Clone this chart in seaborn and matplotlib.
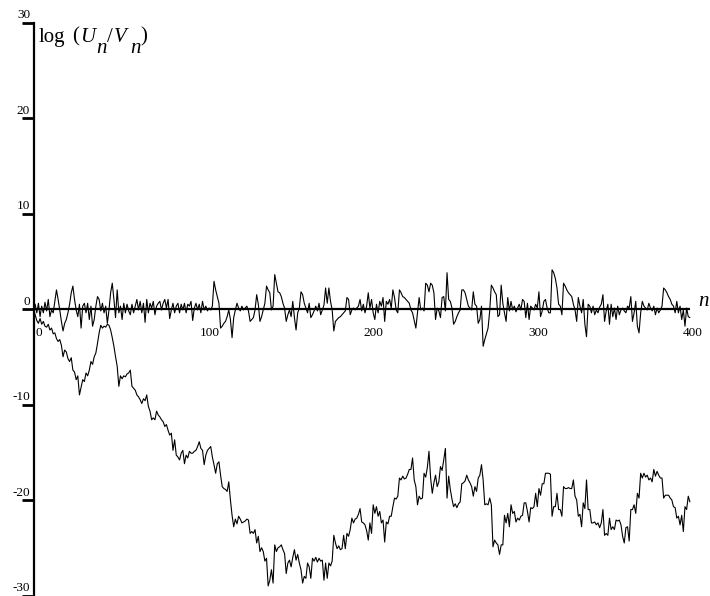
import numpy as np
import pandas as pd
import matplotlib
matplotlib.use("Agg")
import matplotlib.pyplot as plt
import seaborn as sns

# log(U_n/V_n), series that stays near zero (one value per n, n = 0..400)
log_ratio_flat = [
    0.0, 0.5, -0.4, 0.6, -0.8, 0.3, -0.4, 0.7, -0.2, 1.0,
    -0.8, -0.1, -0.4, 0.8, 2.0, 1.0, -0.1, -1.3, -2.3, -1.5,
    -1.1, -0.4, 0.5, 1.7, 2.4, 1.0, -0.1, -0.8, 0.5, -2.0,
    0.3, 0.6, -0.4, 0.6, -1.1, 0.3, -1.8, -1.1, 0.3, 1.3,
    1.0, -0.2, 0.6, -0.4, 0.3, -1.5, -0.1, 1.7, 2.7, 1.0,
    -0.9, 2.0, -0.4, 0.3, -1.1, 0.6, -0.4, 0.5, -0.2, -0.6,
    0.5, -0.4, 0.3, 1.0, -0.1,
    0.8, -0.4, 0.6, -1.4, 1.0,
    -0.4, 0.6, 0.1, 0.8, -0.6, 0.3, 0.6, 0.8, -0.1, 0.6,
    1.0, 0.1, 1.0, -1.0, -0.1, 0.6, -0.4, 0.3, 0.6, -0.4,
    0.5, -0.1, 0.6, -0.4, 0.5, 0.3, 0.8, -1.2, 0.1, 0.6,
    -0.1, 0.5, -0.4,
    0.8, -0.1, 0.3, -0.2, 0.1, -0.1, 0.3,
    2.9, 2.0, 1.3, 0.6, -2.0, -1.8, -1.5, -1.3, -0.8, -0.1,
    -1.1, -3.0, -0.9, -0.1, 0.6, 0.1, -0.2, 0.3, -0.1, 0.1,
    0.3, -0.2, -1.3, -1.1, -0.9, -0.1, 1.5, 0.5, -1.3, -0.8,
    -0.1, 0.6, 2.4, 2.0, 1.7, -0.1, 0.3, 3.6, 2.7, 1.8,
    1.7, 1.3, 0.6, 0.1, -1.3, -0.6, -0.1, -0.8, 0.8, -0.9,
    -2.2, -0.4, 0.1, 1.8, 1.5, 0.6, 0.1, -0.4, 0.6, -0.9,
    -0.6, -0.2, 0.3, -0.2, 0.6, -0.6, -0.1, 0.4, 2.2, 0.6,
    2.2, 0.8, -0.1, -2.3, -1.3, -1.1, -0.9, -0.8, -0.6, -0.4,
    -0.2, 1.2, 1.0, -0.6, -0.1, 0.1, -0.1, 0.1, 0.3, 1.0,
    -0.2, 0.5, -0.4, 0.3, 1.7,
    0.1, 1.0, -0.4, -1.1, 0.5,
    -0.4, 0.8, 0.3, 1.2, -1.3, 0.8, 0.5, 1.0, 0.1, 2.0,
    1.2, -0.1, -0.4, 2.0, 1.7, 1.3, 1.2, 1.0, 0.8, 0.6,
    -0.1, -0.4, -1.2, -2.0, -0.4, 1.2, -0.1, 0.1, -0.2, 2.7,
    2.5, 1.8, 2.7, 2.5, 1.7, -1.1, 0.1, -0.2, -0.9, 1.2,
    1.3, -0.2, 3.8, 1.0, 0.8, 0.1, -1.6, -1.3, -0.8, -0.4,
    -0.1, 2.0, 2.0, 1.7, 1.0, 0.3, 0.1, -0.1, 1.8, 0.5,
    0.3, -1.5, -1.1, 0.3, -3.9, -3.2, -2.6, -2.0, -0.2, 2.5,
    2.2, 1.8, 1.5, -0.8, -0.6, 2.5, 0.6, -0.4, -1.3, 1.2,
    -0.2, 0.8, -0.1, 0.3, -0.3, 0.1, 0.5, -0.1, 1.0, 0.8,
    -0.9, 0.6, -1.1, 0.3, 0.1, -0.1, 0.5,
    0.1, 1.8, -0.8,
    -0.2, 0.8, 1.0, 0.1, -0.4, -0.4, 4.1, 3.8, 3.2, 2.2,
    0.5, 0.3, -0.6, 2.7, 2.4, 2.0, 1.7, 1.5, 1.3, 0.5,
    -0.1, -1.3, 1.2, 0.3, -0.4, 1.0, -1.6, -2.9, 0.5, 0.3,
    -0.4, 0.3, -0.6, -0.1, -0.4, 0.2, 0.5, 1.5, -1.3, -0.2,
    0.5, -1.6, 0.5, -0.8, 0.1, -1.1, 0.3, -0.6, -0.1, 0.1,
    -0.2, -0.4, 0.3, 0.1, 1.3, -1.3, -0.4, 0.8, -1.8, -2.5,
    -0.4, 0.8, 0.3, 0.1, -0.1, 0.6, 0.1, -0.2, 0.3, -0.6,
    0.1, -0.4, -0.1, 0.3, 2.2, 2.0, 1.7, 1.3, 1.0, 0.5,
    0.3, -0.4, 0.8, -0.4, 0.3, -1.1, -0.1, -1.8, 0.1, -0.8,
    -0.9,
]

# log(U_n/V_n), drifting series (one value per n, n = 0..400)
log_ratio_drift = [
    0.0, -0.6, -1.2, -1.5, -1.0, -1.6, -1.3, -1.8, -1.9, -1.6,
    -2.2, -2.0, -2.6, -2.5, -3.1, -3.4, -3.2, -3.8, -5.0, -4.3,
    -4.5, -5.2, -5.5, -5.1, -6.4, -6.6, -7.4, -7.0, -9.0, -8.2,
    -7.4, -7.6, -6.7, -7.0, -6.4, -5.5, -5.8, -5.0, -4.6, -3.6,
    -2.5, -1.7, -2.0, -1.8, -1.9, -1.6, -1.7, -2.2, -3.0, -3.9,
    -5.0, -6.0, -8.1, -7.0, -7.3, -7.0, -7.1, -6.8, -6.7, -6.4,
    -8.1, -8.3, -8.5, -9.0, -9.2, -9.5, -9.9, -9.4, -9.6, -9.0,
    -10.2, -10.7, -11.6, -11.4, -11.6, -10.7, -11.1, -11.3, -11.6, -11.8,
    -12.3, -12.1, -12.7, -13.2, -13.0, -14.8, -13.7, -15.3, -15.5, -15.8,
    -15.1, -14.8, -16.2, -15.3, -15.6, -14.9, -15.1, -15.1, -14.9, -14.8,
    -14.4, -13.9, -14.6, -14.8, -16.3, -15.3, -14.8, -14.6, -14.4, -15.5,
    -16.3, -17.2, -16.2, -16.0, -17.4, -18.6, -18.8, -18.9, -19.1, -18.1,
    -20.0, -21.6, -22.8, -22.0, -22.5, -21.7, -22.0, -22.4, -22.3, -22.2,
    -22.0, -22.1, -23.5, -23.3, -23.5, -23.1, -24.5, -23.8, -25.4, -25.0,
    -25.4, -26.4, -26.1, -29.0, -28.4, -27.3, -28.7, -24.7, -25.4, -25.0,
    -24.9, -24.7, -25.2, -25.6, -27.7, -26.6, -26.3, -27.0, -26.0, -25.2,
    -26.3, -25.7, -26.6, -27.3, -28.7, -28.0, -28.2, -26.6, -27.0, -28.2,
    -26.1, -26.4, -26.0, -26.5, -26.1, -26.4, -26.3, -28.4, -26.6, -28.2,
    -26.6, -26.9, -26.4, -23.7, -24.5, -25.1, -24.8, -25.2, -25.1, -23.7,
    -25.1, -23.5, -23.8, -23.1, -21.9, -22.4, -22.0, -21.9, -21.5, -20.9,
    -22.3, -22.4, -22.6, -23.2, -24.2, -22.4, -23.5, -20.5, -21.4, -20.7,
    -21.7, -21.2, -22.4, -22.1, -24.4, -22.3, -22.5, -21.7, -21.7, -20.7,
    -19.8, -19.9, -19.6, -17.7, -17.9, -17.5, -17.8, -17.7, -17.3, -16.8,
    -16.8, -15.6, -17.9, -18.6, -20.5, -19.6, -19.9, -19.8, -17.2, -17.6,
    -16.6, -14.9, -17.7, -19.3, -18.2, -17.4, -18.6, -18.1, -16.5, -16.9,
    -15.8, -14.6, -19.8, -17.5, -18.9, -19.9, -20.7, -20.4, -20.8, -20.4,
    -20.2, -18.3, -18.2, -18.0, -17.4, -17.9, -18.2, -18.6, -19.6, -18.6,
    -19.1, -17.7, -17.4, -16.3, -17.9, -20.5, -20.4, -20.5, -19.8, -20.5,
    -24.9, -24.2, -24.5, -24.7, -25.7, -24.7, -24.7, -21.6, -22.4, -21.4,
    -22.8, -20.5, -21.4, -21.2, -22.3, -21.9, -22.1, -21.7, -21.6, -20.3,
    -20.3, -21.2, -22.3, -20.8, -20.9, -20.7, -19.3, -20.7, -18.8, -19.5,
    -18.3, -18.3, -17.2, -17.2, -17.2, -17.3, -21.7, -20.7, -20.7, -19.3,
    -21.0, -21.0, -21.7, -18.6, -18.8, -18.8, -18.7, -18.8, -18.8, -17.9,
    -19.6, -20.0, -21.7, -21.5, -22.8, -20.3, -20.9, -17.9, -21.0, -21.0,
    -22.4, -22.4, -22.3, -22.6, -22.4, -22.9, -22.4, -21.0, -23.7, -23.5,
    -23.7, -21.9, -23.1, -22.8, -23.1, -22.1, -22.2, -22.1, -22.6, -23.8,
    -24.5, -22.9, -22.8, -24.3, -21.0, -21.0, -20.5, -21.4, -19.3, -19.8,
    -17.2, -17.7, -17.2, -17.6, -17.4, -17.9, -17.7, -18.1, -16.8, -17.5,
    -17.0, -17.4, -17.7, -17.7, -19.8, -19.5, -19.5, -19.5, -19.8, -20.0,
    -20.7, -20.8, -21.9, -21.7, -22.6, -21.6, -23.3, -20.7, -21.0, -19.6,
    -20.2,
]

y_ticks = [-30, -20, -10, 0, 10, 20, 30]
x_ticks = [0, 100, 200, 300, 400]

sns.set_theme(style="white")
plt.rcParams["font.family"] = ["Liberation Serif", "DejaVu Serif"]

flat = pd.DataFrame({"n": np.arange(len(log_ratio_flat)), "value": log_ratio_flat})
drift = pd.DataFrame({"n": np.arange(len(log_ratio_drift)), "value": log_ratio_drift})

fig = plt.figure(figsize=(7.1, 5.96), dpi=100)
ax = fig.add_axes([33.5 / 710, 0.5 / 596, 1.641 * 410 / 710, 573 / 596])

sns.lineplot(data=flat, x="n", y="value", ax=ax, color="black",
             linewidth=0.8, estimator=None, sort=False)
sns.lineplot(data=drift, x="n", y="value", ax=ax, color="black",
             linewidth=0.8, estimator=None, sort=False)

# horizontal axis drawn through zero
ax.hlines(0, x_ticks[0], x_ticks[-1], color="black", linewidth=1.6)

ax.set_xlim(0, 410)
ax.set_ylim(-30, 30)
ax.set_xticks([])
ax.set_yticks(y_ticks)
ax.tick_params(axis="y", direction="out", length=9, width=2, color="black",
               labelleft=False, left=True)
for side in ["top", "right", "bottom"]:
    ax.spines[side].set_visible(False)
ax.spines["left"].set_color("black")
ax.spines["left"].set_linewidth(1.6)
ax.set_xlabel("")
ax.set_ylabel("")

ytrans = ax.get_yaxis_transform()
for v in y_ticks:
    ax.annotate(str(v), xy=(0, v), xycoords=ytrans, xytext=(-2.5, 3),
                textcoords="offset points", ha="right", va="baseline",
                fontsize=9.5, color="black")

for v in x_ticks:
    # the last label is pulled in a little so it stays inside the figure
    dx = -5 if v == x_ticks[-1] else 1.5
    ax.annotate(str(v), xy=(v, 0), xytext=(dx, -19.5),
                textcoords="offset points", ha="left", va="baseline",
                fontsize=9.5, color="black")

# y label: log (U_n / V_n), subscripts at full size and dropped
label_parts = [
    ("log", 4.0, 0, "normal"),
    ("(", 27.5, 0, "normal"),
    ("U", 33.5, 0, "italic"),
    ("n", 45.5, -8.0, "italic"),
    ("/", 52.7, 0, "normal"),
    ("V", 58.2, 0, "italic"),
    ("n", 69.5, -8.0, "italic"),
    (")", 76.7, 0, "normal"),
]
for txt, dx, dy, style in label_parts:
    ax.annotate(txt, xy=(0, 28), xycoords=ytrans, xytext=(dx, dy),
                textcoords="offset points", ha="left", va="baseline",
                fontsize=15, fontstyle=style, color="black")

ax.annotate("n", xy=(400, 0), xytext=(6, 2), textcoords="offset points",
            ha="left", va="baseline", fontsize=15, fontstyle="italic",
            color="black", annotation_clip=False)

fig.savefig("out.png", dpi=100)
